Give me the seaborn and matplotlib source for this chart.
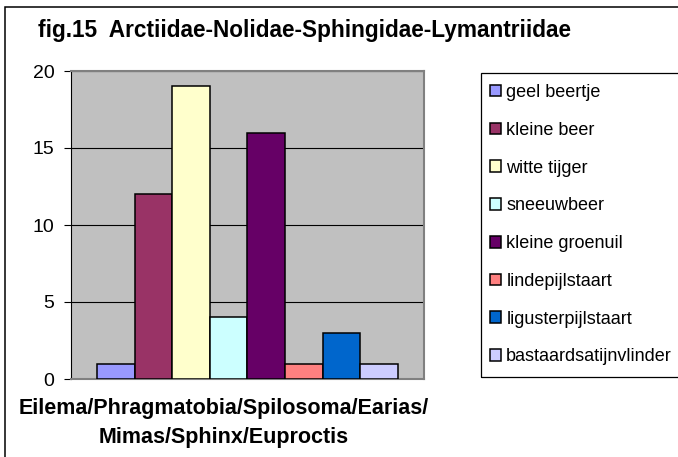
#!/usr/bin/env python3
"""
fig.15 - counts of Arctiidae/Nolidae/Sphingidae/Lymantriidae species
Excel-style clustered bar chart redrawn with seaborn
"""

import pandas as pd
import matplotlib.pyplot as plt
import seaborn as sns
from matplotlib.patches import Rectangle

plt.rcParams['font.family'] = ['Liberation Sans', 'DejaVu Sans']

title = "fig.15  Arctiidae-Nolidae-Sphingidae-Lymantriidae"
group = "Eilema/Phragmatobia/Spilosoma/Earias/\nMimas/Sphinx/Euproctis"

species = [
    "geel beertje",
    "kleine beer",
    "witte tijger",
    "sneeuwbeer",
    "kleine groenuil",
    "lindepijlstaart",
    "ligusterpijlstaart",
    "bastaardsatijnvlinder",
]
counts = [1, 12, 19, 4, 16, 1, 3, 1]
colors = ["#9999FF", "#993366", "#FFFFCC", "#CCFFFF",
          "#660066", "#FF8080", "#0066CC", "#CCCCFF"]
yticks = [0, 5, 10, 15, 20]

W, H = 678, 457
fig = plt.figure(figsize=(W / 100, H / 100), dpi=100)

# plot area (pixel box 71..424 x 71..379)
ax = fig.add_axes([71 / W, 1 - 379 / H, (424 - 71) / W, (379 - 71) / H])
ax.set_facecolor("#C0C0C0")

df = pd.DataFrame({"groep": [group] * len(species), "soort": species, "aantal": counts})
sns.barplot(data=df, x="groep", y="aantal", hue="soort", hue_order=species,
            palette=colors, saturation=1, width=0.85, edgecolor="black",
            linewidth=1.1, ax=ax, zorder=3)

ax.set_xlim(-0.5, 0.5)
ax.set_ylim(0, 20)
ax.set_yticks(yticks)
ax.grid(axis="y", color="black", linewidth=0.8, zorder=0)
ax.set_axisbelow(True)
ax.set_xticks([])
ax.set_xlabel("")
ax.set_ylabel("")
ax.tick_params(axis="y", labelsize=14, length=5, width=0.8, pad=7, direction="out")
for side in ["top", "right", "bottom"]:
    ax.spines[side].set_color("#808080")
    ax.spines[side].set_linewidth(1.5)
ax.spines["left"].set_color("black")
ax.spines["left"].set_linewidth(0.8)

handles, labels = ax.get_legend_handles_labels()
ax.get_legend().remove()
fig.legend(handles, labels, loc="upper left",
           bbox_to_anchor=(490 / W, 1 - 84 / H), frameon=False,
           fontsize=13, labelspacing=1.15, handlelength=0.62,
           handleheight=0.62, handletextpad=0.28, borderpad=0,
           borderaxespad=0)

# legend box, runs off the right edge like the original
fig.add_artist(Rectangle((481 / W, 1 - 377 / H), 0.5, (377 - 73) / H,
                         transform=fig.transFigure, fill=False,
                         edgecolor="black", linewidth=0.9, clip_on=False))
# outer chart border
fig.add_artist(Rectangle((5 / W, -0.1), 1.2, 1.1 - 7 / H,
                         transform=fig.transFigure, fill=False,
                         edgecolor="black", linewidth=1.1, clip_on=False))

fig.text(38 / W, 1 - 37 / H, title, fontsize=16.3, fontweight="bold",
         ha="left", va="baseline")
fig.text(224 / W, 1 - 398 / H, group, fontsize=15.5, fontweight="bold",
         ha="center", va="top", linespacing=1.5)

fig.savefig("out.png", dpi=100, facecolor="white")
